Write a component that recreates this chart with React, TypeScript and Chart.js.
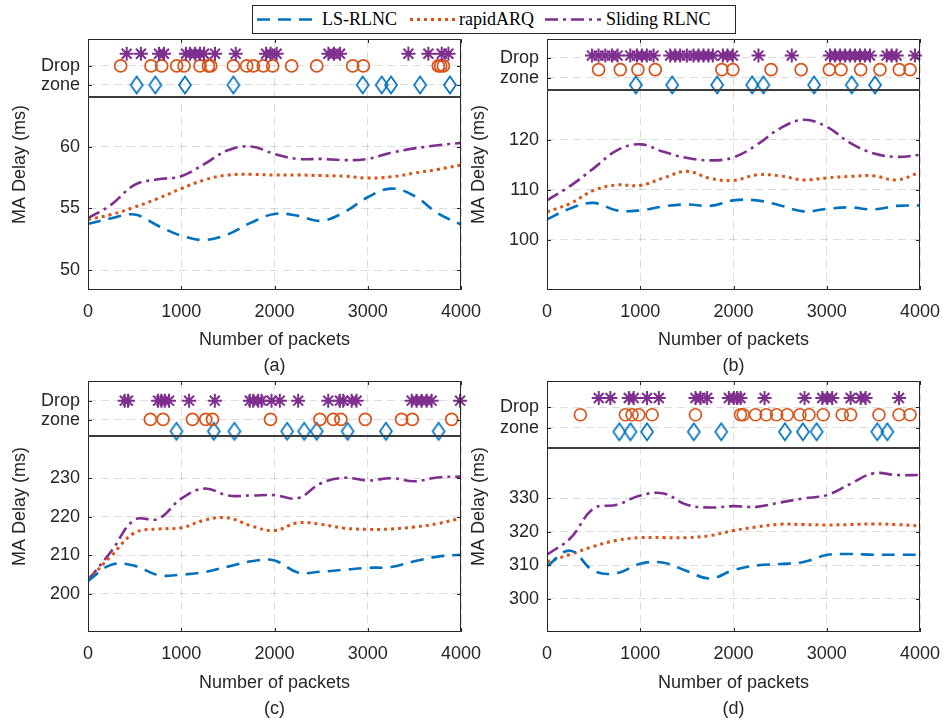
import React, { useEffect, useRef } from 'react';
import { Chart, registerables } from 'chart.js';

Chart.register(...registerables);

// ---------- data ----------
const X_SAMPLES = [0, 250, 500, 750, 1000, 1250, 1500, 1750, 2000, 2250, 2500, 2750, 3000, 3250, 3500, 3750, 4000];
const X_TICKS = [0, 1000, 2000, 3000, 4000];
const LEGEND_LABELS = ['LS-RLNC', 'rapidARQ', 'Sliding RLNC'];
const DROP_TICK_LABELS = ['Drop', 'zone'];
const Y_LABEL = 'MA Delay (ms)';
const X_LABEL = 'Number of packets';

// (a)
const A_LS = [53.75, 54.2, 54.5, 53.6, 52.8, 52.45, 52.9, 53.85, 54.55, 54.4, 54.0, 54.7, 55.9, 56.6, 56.0, 54.6, 53.7];
const A_RAPID = [54.1, 54.5, 55.1, 55.8, 56.6, 57.3, 57.7, 57.75, 57.7, 57.7, 57.65, 57.6, 57.45, 57.55, 57.85, 58.15, 58.5];
const A_SLIDING = [54.2, 55.3, 56.9, 57.35, 57.6, 58.6, 59.7, 60.0, 59.4, 59.0, 59.0, 58.9, 59.0, 59.5, 59.85, 60.1, 60.3];
const A_DROP_SLIDING = [415, 568, 761, 815, 1051, 1094, 1148, 1201, 1244, 1362, 1584, 1909, 1959, 2023, 2578, 2638, 2703, 3436, 3650, 3793, 3865];
const A_DROP_RAPID = [350, 676, 790, 951, 1030, 1201, 1291, 1316, 1559, 1702, 1773, 1880, 1981, 2184, 2453, 2839, 2953, 3757, 3782, 3811];
const A_DROP_LS = [522, 722, 1040, 1559, 2946, 3150, 3250, 3561, 3882];
const A_YTICKS = [50, 55, 60];

// (b)
const B_LS = [104.1, 106.3, 107.4, 105.9, 105.9, 106.7, 107.1, 106.8, 107.9, 107.9, 106.9, 105.7, 106.2, 106.5, 106.1, 106.8, 106.9];
const B_RAPID = [105.6, 107.3, 109.9, 111.0, 110.9, 112.4, 113.7, 112.3, 111.9, 113.0, 112.8, 112.0, 112.4, 112.7, 112.8, 112.0, 113.5];
const B_SLIDING = [107.9, 110.8, 114.3, 117.9, 119.1, 117.6, 116.4, 115.9, 116.5, 119.0, 122.3, 124.0, 122.6, 119.4, 117.3, 116.6, 117.0];
const B_DROP_SLIDING = [482, 553, 625, 696, 757, 893, 964, 1018, 1071, 1143, 1321, 1375, 1428, 1500, 1571, 1625, 1678, 1732, 1778, 1885, 1935, 1993, 2268, 2625, 3035, 3089, 3143, 3196, 3250, 3303, 3357, 3410, 3464, 3642, 3696, 3750, 3946];
const B_DROP_RAPID = [553, 786, 975, 1161, 1875, 1993, 2403, 2725, 3028, 3153, 3364, 3571, 3778, 3893];
const B_DROP_LS = [953, 1343, 1825, 2200, 2321, 2864, 3268, 3518];
const B_YTICKS = [100, 110, 120];

// (c)
const C_LS = [203.3, 207.5, 207.2, 204.8, 204.9, 205.6, 207.0, 208.4, 208.6, 205.5, 205.7, 206.2, 206.7, 206.9, 208.4, 209.6, 210.1];
const C_RAPID = [203.5, 209.8, 215.8, 216.8, 217.1, 219.1, 219.7, 217.6, 216.4, 218.4, 218.0, 217.0, 216.7, 216.8, 217.3, 218.2, 219.6];
const C_SLIDING = [203.5, 211.0, 219.2, 219.4, 224.7, 227.3, 225.5, 225.5, 225.6, 224.8, 228.7, 230.1, 229.4, 230.0, 229.2, 230.2, 230.4];
const C_DROP_SLIDING = [394, 429, 751, 787, 823, 869, 1084, 1360, 1735, 1771, 1825, 1861, 1968, 2057, 2254, 2576, 2701, 2737, 2827, 2880, 3471, 3524, 3578, 3632, 3685, 3990];
const C_DROP_RAPID = [669, 805, 1120, 1263, 1335, 1957, 2487, 2630, 2712, 2973, 3363, 3478, 3900];
const C_DROP_LS = [949, 1349, 1570, 2136, 2319, 2452, 2784, 3195, 3760];
const C_YTICKS = [200, 210, 220, 230];

// (d)
const D_LS = [309.7, 314.3, 308.3, 307.6, 310.4, 310.7, 308.2, 306.0, 308.5, 309.9, 310.3, 310.9, 313.0, 313.3, 313.1, 313.1, 313.1];
const D_RAPID = [311.0, 313.2, 315.6, 317.4, 318.2, 318.2, 318.2, 318.8, 320.3, 321.4, 322.2, 322.1, 322.0, 322.1, 322.3, 322.1, 321.7];
const D_SLIDING = [313.1, 318.0, 326.9, 328.0, 330.8, 331.4, 328.0, 327.2, 327.6, 327.4, 328.7, 329.9, 330.9, 334.2, 337.4, 336.9, 336.9];
const D_DROP_SLIDING = [555, 680, 877, 930, 1073, 1199, 1592, 1646, 1717, 1950, 2004, 2039, 2075, 2333, 2762, 2952, 3005, 3059, 3256, 3363, 3417, 3775];
const D_DROP_RAPID = [358, 841, 912, 984, 1127, 1592, 2075, 2104, 2236, 2351, 2462, 2576, 2712, 2809, 2962, 3166, 3256, 3560, 3775, 3893];
const D_DROP_LS = [776, 895, 1073, 1574, 1868, 2551, 2744, 2891, 3542, 3650];
const D_YTICKS = [300, 310, 320, 330];

// ---------- style ----------
const BLUE = '#0072BD';
const ORANGE = '#D95319';
const PURPLE = '#7E2F8E';
const TEXT = '#262626';
const GRID = 'rgba(38,38,38,0.16)';
const SANS = '"Liberation Sans", Arial, sans-serif';
const SERIF = '"Liberation Serif", "Times New Roman", serif';
const DASH_LS = [13, 8];
const DASH_RAPID = [3, 4];
const DASH_SLIDING = [13, 5, 3, 5];

type PanelCfg = {
  caption: string;
  left: number;
  top: number;
  padTop: number;
  titlePad: number;
  yMin: number;
  yMax: number;
  yTicks: number[];
  mainW: number;
  dropW: number;
  dropTicks: number[];
  rows: number[]; // sliding, rapid, ls levels in drop zone
  ls: number[];
  rapid: number[];
  sliding: number[];
  dLs: number[];
  dRapid: number[];
  dSliding: number[];
};

const PANELS: PanelCfg[] = [
  { caption: '(a)', left: 0, top: 30, padTop: 5, titlePad: 1, yMin: 48.4, yMax: 64, yTicks: A_YTICKS, mainW: 196, dropW: 59,
    dropTicks: [0.537, 0.208], rows: [0.746, 0.537, 0.208], ls: A_LS, rapid: A_RAPID, sliding: A_SLIDING,
    dLs: A_DROP_LS, dRapid: A_DROP_RAPID, dSliding: A_DROP_SLIDING },
  { caption: '(b)', left: 459, top: 30, padTop: 3, titlePad: 1, yMin: 90, yMax: 130, yTicks: B_YTICKS, mainW: 205, dropW: 52,
    dropTicks: [0.629, 0.237], rows: [0.673, 0.398, 0.096], ls: B_LS, rapid: B_RAPID, sliding: B_SLIDING,
    dLs: B_DROP_LS, dRapid: B_DROP_RAPID, dSliding: B_DROP_SLIDING },
  { caption: '(c)', left: 0, top: 372, padTop: 4, titlePad: 0, yMin: 190, yMax: 241, yTicks: C_YTICKS, mainW: 200, dropW: 56,
    dropTicks: [0.641, 0.293], rows: [0.641, 0.302, 0.084], ls: C_LS, rapid: C_RAPID, sliding: C_SLIDING,
    dLs: C_DROP_LS, dRapid: C_DROP_RAPID, dSliding: C_DROP_SLIDING },
  { caption: '(d)', left: 459, top: 372, padTop: 4.5, titlePad: 0, yMin: 290, yMax: 345, yTicks: D_YTICKS, mainW: 187, dropW: 68,
    dropTicks: [0.609, 0.304], rows: [0.746, 0.496, 0.241], ls: D_LS, rapid: D_RAPID, sliding: D_SLIDING,
    dLs: D_DROP_LS, dRapid: D_DROP_RAPID, dSliding: D_DROP_SLIDING },
];

const CANVAS_W = 486;
const CANVAS_H = 350;

function makeDiamond(): HTMLCanvasElement {
  const c = document.createElement('canvas');
  c.width = 16;
  c.height = 22;
  const g = c.getContext('2d')!;
  g.strokeStyle = BLUE;
  g.lineWidth = 1.7;
  g.beginPath();
  g.moveTo(8, 2.5);
  g.lineTo(14, 11);
  g.lineTo(8, 19.5);
  g.lineTo(2, 11);
  g.closePath();
  g.stroke();
  return c;
}

const framePlugin = {
  id: 'frame',
  afterDatasetsDraw(chart: any) {
    const { ctx, chartArea, scales } = chart;
    const { left, right, top, bottom } = chartArea;
    ctx.save();
    ctx.strokeStyle = TEXT;
    ctx.lineWidth = 1;
    ctx.beginPath();
    ctx.rect(left + 0.5, top + 0.5, right - left - 1, bottom - top - 1);
    ctx.stroke();
    const tl = 4;
    ctx.beginPath();
    for (const v of X_TICKS) {
      const px = Math.round(scales.x.getPixelForValue(v)) + 0.5;
      ctx.moveTo(px, bottom);
      ctx.lineTo(px, bottom - tl);
      ctx.moveTo(px, top);
      ctx.lineTo(px, top + tl);
    }
    for (const id of ['y', 'yd']) {
      const s = scales[id];
      for (const t of s.ticks) {
        const py = Math.round(s.getPixelForValue(t.value)) + 0.5;
        ctx.moveTo(left, py);
        ctx.lineTo(left + tl, py);
        ctx.moveTo(right, py);
        ctx.lineTo(right - tl, py);
      }
    }
    ctx.stroke();
    const ys = Math.round(scales.y.top);
    ctx.strokeStyle = '#3c3c3c';
    ctx.lineWidth = 2;
    ctx.beginPath();
    ctx.moveTo(left, ys);
    ctx.lineTo(right, ys);
    ctx.stroke();
    ctx.restore();
  },
};

const yLabelPlugin = {
  id: 'ylabel',
  afterDraw(chart: any) {
    const { ctx, chartArea } = chart;
    ctx.save();
    ctx.translate(20, (chartArea.top + chartArea.bottom) / 2);
    ctx.rotate(-Math.PI / 2);
    ctx.font = `18px ${SANS}`;
    ctx.fillStyle = TEXT;
    ctx.textAlign = 'center';
    ctx.textBaseline = 'middle';
    ctx.fillText(Y_LABEL, 0, 0);
    ctx.restore();
  },
};

const zeroPad = (s: any) => {
  s.paddingTop = 0;
  s.paddingBottom = 0;
  s.paddingLeft = 0;
  s.paddingRight = 0;
};

function Panel({ cfg }: { cfg: PanelCfg }) {
  const ref = useRef<HTMLCanvasElement>(null);
  useEffect(() => {
    const canvas = ref.current!;
    const diamond = makeDiamond();
    const line = (label: string, vals: number[], color: string, dash: number[], width: number) => ({
      type: 'line',
      label,
      data: X_SAMPLES.map((x, i) => ({ x, y: vals[i] })),
      xAxisID: 'x',
      yAxisID: 'y',
      borderColor: color,
      borderWidth: width,
      borderDash: dash,
      borderCapStyle: 'butt',
      pointRadius: 0,
      tension: 0.4,
      fill: false,
    });
    const drop = (xs: number[], level: number, color: string, style: any, radius: number, bw: number) => ({
      type: 'scatter',
      data: xs.map((x) => ({ x, y: level })),
      xAxisID: 'x',
      yAxisID: 'yd',
      pointStyle: style,
      pointRadius: radius,
      pointBorderColor: color,
      pointBackgroundColor: 'rgba(0,0,0,0)',
      borderColor: color,
      backgroundColor: 'rgba(0,0,0,0)',
      pointBorderWidth: bw,
      showLine: false,
      clip: false,
    });
    const tickFont = { family: SANS, size: 18 };
    const chart = new Chart(canvas, {
      type: 'line',
      data: {
        datasets: [
          line(LEGEND_LABELS[0], cfg.ls, BLUE, DASH_LS, 2.6),
          line(LEGEND_LABELS[1], cfg.rapid, ORANGE, DASH_RAPID, 3),
          line(LEGEND_LABELS[2], cfg.sliding, PURPLE, DASH_SLIDING, 2.6),
          drop(cfg.dSliding, cfg.rows[0], PURPLE, 'star', 7, 2),
          drop(cfg.dRapid, cfg.rows[1], ORANGE, 'circle', 6, 1.7),
          drop(cfg.dLs, cfg.rows[2], BLUE, diamond, 7, 1.7),
        ] as any,
      },
      options: {
        animation: false,
        responsive: false,
        layout: { padding: { top: cfg.padTop, right: 25, bottom: 0, left: 0 } },
        plugins: { legend: { display: false }, tooltip: { enabled: false } },
        scales: {
          x: {
            type: 'linear',
            min: 0,
            max: 4000,
            afterBuildTicks: (s: any) => {
              s.ticks = X_TICKS.map((v) => ({ value: v }));
            },
            afterFit: (s: any) => {
              s.height = 90;
              zeroPad(s);
            },
            ticks: { callback: (v: any) => String(v), font: tickFont, color: TEXT, padding: 11, maxRotation: 0, autoSkip: false },
            grid: { color: GRID, drawTicks: false, lineWidth: 1 },
            border: { display: false, dash: [8, 5] },
            title: {
              display: true,
              text: [X_LABEL, cfg.caption],
              font: { family: SANS, size: 18, lineHeight: 26 / 18 },
              color: TEXT,
              padding: { top: 0, bottom: cfg.titlePad },
            },
          },
          y: {
            type: 'linear',
            position: 'left',
            stack: 'p',
            stackWeight: cfg.mainW,
            min: cfg.yMin,
            max: cfg.yMax,
            afterBuildTicks: (s: any) => {
              s.ticks = cfg.yTicks.map((v) => ({ value: v }));
            },
            afterFit: (s: any) => {
              s.width = 88;
              zeroPad(s);
            },
            ticks: { callback: (v: any) => String(v), font: tickFont, color: TEXT, padding: 8 },
            grid: { color: GRID, drawTicks: false, lineWidth: 1 },
            border: { display: false, dash: [8, 5] },
          },
          yd: {
            type: 'linear',
            position: 'left',
            stack: 'p',
            stackWeight: cfg.dropW,
            min: 0,
            max: 1,
            afterBuildTicks: (s: any) => {
              s.ticks = cfg.dropTicks.map((v) => ({ value: v }));
            },
            afterFit: (s: any) => {
              s.width = 88;
              zeroPad(s);
            },
            ticks: { callback: (_v: any, i: number) => DROP_TICK_LABELS[i], font: tickFont, color: TEXT, padding: 8 },
            grid: { color: GRID, drawTicks: false, lineWidth: 1 },
            border: { display: false, dash: [8, 5] },
          },
        },
      } as any,
      plugins: [framePlugin, yLabelPlugin],
    });
    return () => chart.destroy();
  }, [cfg]);
  return (
    <canvas
      ref={ref}
      width={CANVAS_W}
      height={CANVAS_H}
      style={{ position: 'absolute', left: cfg.left, top: cfg.top, width: CANVAS_W, height: CANVAS_H }}
    />
  );
}

function Legend() {
  const items = [
    { label: LEGEND_LABELS[0], color: BLUE, dash: DASH_LS, w: 2.6, sx: 4, sw: 61, tx: 69 },
    { label: LEGEND_LABELS[1], color: ORANGE, dash: DASH_RAPID, w: 3, sx: 157, sw: 45, tx: 206 },
    { label: LEGEND_LABELS[2], color: PURPLE, dash: DASH_SLIDING, w: 2.6, sx: 292, sw: 56, tx: 353 },
  ];
  return (
    <div
      style={{
        position: 'absolute',
        left: 252,
        top: 5,
        width: 484,
        height: 29,
        border: `1px solid ${TEXT}`,
        boxSizing: 'border-box',
        background: '#fff',
        fontFamily: SERIF,
        fontSize: 18,
        color: '#000',
      }}
    >
      {items.map((it) => (
        <React.Fragment key={it.label}>
          <svg style={{ position: 'absolute', left: it.sx, top: 0 }} width={it.sw} height={27}>
            <line x1={0} y1={13.5} x2={it.sw} y2={13.5} stroke={it.color} strokeWidth={it.w} strokeDasharray={it.dash.join(' ')} />
          </svg>
          <span style={{ position: 'absolute', left: it.tx, top: 0, lineHeight: '27px', whiteSpace: 'nowrap' }}>{it.label}</span>
        </React.Fragment>
      ))}
    </div>
  );
}

export default function App() {
  return (
    <div style={{ position: 'absolute', left: 0, top: 0, width: 944, height: 722, background: '#fff', overflow: 'hidden' }}>
      {PANELS.map((p) => (
        <Panel key={p.caption} cfg={p} />
      ))}
      <Legend />
    </div>
  );
}
